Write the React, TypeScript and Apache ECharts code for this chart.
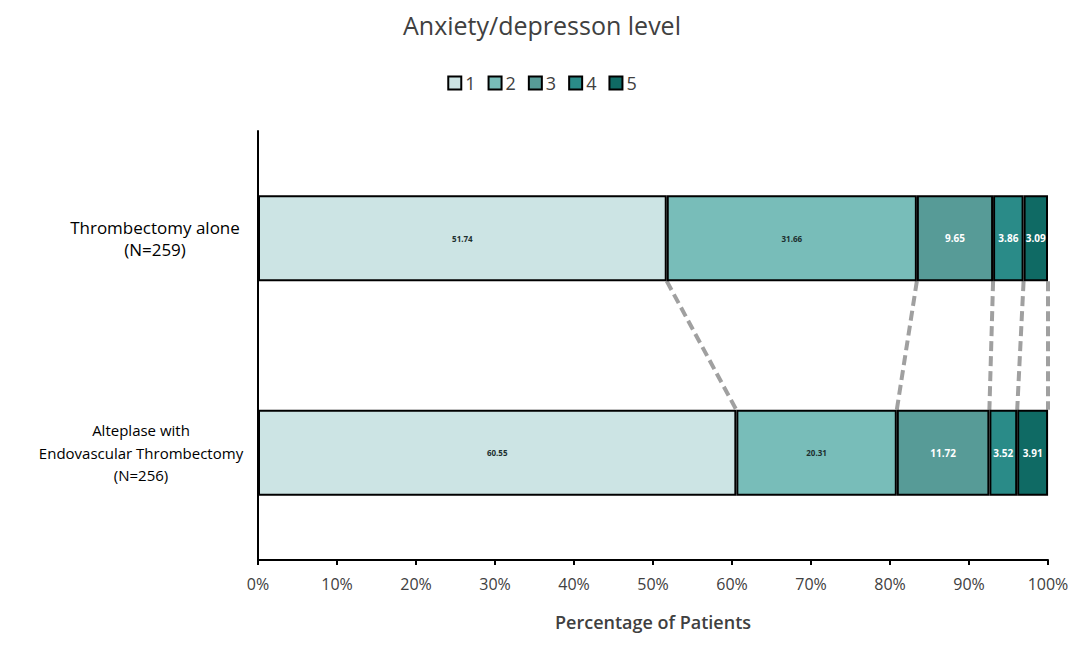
import React, { useEffect, useRef } from "react";
import * as echarts from "echarts";

const categories = ["Thrombectomy alone\n(N=259)", "Alteplase with\nEndovascular Thrombectomy\n(N=256)"];
const levels = ["1", "2", "3", "4", "5"];
const level1 = [51.74, 60.55];
const level2 = [31.66, 20.31];
const level3 = [9.65, 11.72];
const level4 = [3.86, 3.52];
const level5 = [3.09, 3.91];
const xTicks = [0, 10, 20, 30, 40, 50, 60, 70, 80, 90, 100];

const colors = ["#cce4e4", "#78bdb9", "#579b97", "#2a8b88", "#0f6a64"];
const labelColors = ["#1d2f2f", "#1d2f2f", "#ffffff", "#ffffff", "#ffffff"];
const labelSizes = [8, 8, 10, 10, 10];

export default function App() {
  const ref = useRef<HTMLDivElement>(null);
  useEffect(() => {
    if (!ref.current) return;
    const chart = echarts.init(ref.current, null, { renderer: "svg" });
    const seriesData = [level1, level2, level3, level4, level5];
    const boundaries: number[][] = [];
    for (let k = 0; k < 5; k++) {
      const top = seriesData.slice(0, k + 1).reduce((s, a) => s + a[0], 0);
      const bot = seriesData.slice(0, k + 1).reduce((s, a) => s + a[1], 0);
      boundaries.push([Math.min(top, 100), Math.min(bot, 100)]);
    }
    const barSeries = seriesData.map((d, i) => ({
      name: levels[i],
      type: "bar",
      stack: "total",
      barWidth: "40%",
      data: d,
      itemStyle: { color: colors[i], borderColor: "#000", borderWidth: 2 },
      label: {
        show: true,
        position: "inside",
        color: labelColors[i],
        fontSize: labelSizes[i],
        fontWeight: "bold",
        fontFamily: "Open Sans",
        formatter: (p: any) => p.value.toFixed(2),
      },
      z: 3,
    }));
    const connector = {
      type: "custom",
      silent: true,
      z: 1,
      data: boundaries,
      renderItem: (params: any, api: any) => {
        const xt = api.value(0);
        const xb = api.value(1);
        const bandH = api.size([0, 1])[1];
        const half = (bandH * 0.4) / 2;
        const pTop = api.coord([xt, 0]);
        const pBot = api.coord([xb, 1]);
        return {
          type: "line",
          shape: { x1: pTop[0], y1: pTop[1] + half, x2: pBot[0], y2: pBot[1] - half },
          style: { stroke: "#a0a0a0", lineWidth: 4, lineDash: [10, 5] },
        };
      },
      encode: { x: [0, 1] },
    };
    chart.setOption({
      animation: false,
      title: {
        text: "Anxiety/depresson level",
        left: "center",
        top: 7,
        textStyle: { fontFamily: "Open Sans", fontSize: 25, fontWeight: "normal", color: "#404040" },
      },
      legend: {
        data: levels,
        top: 69,
        left: "center",
        itemWidth: 13,
        itemHeight: 13,
        itemGap: 12,
        icon: "rect",
        itemStyle: { borderColor: "#000", borderWidth: 2 },
        textStyle: { fontFamily: "Open Sans", fontSize: 18, color: "#404040", padding: [0, 0, 0, -1] },
      },
      grid: { left: 258, right: 36, top: 131, bottom: 86, containLabel: false },
      xAxis: {
        type: "value",
        min: 0,
        max: 100,
        interval: 10,
        axisLine: { show: true, lineStyle: { color: "#000", width: 2 } },
        axisTick: { show: true, length: 5, lineStyle: { color: "#000", width: 2 } },
        splitLine: { show: false },
        axisLabel: {
          formatter: (v: number) => (xTicks.includes(v) ? v + "%" : ""),
          fontFamily: "Open Sans",
          fontSize: 16,
          color: "#404040",
          margin: 16,
        },
        name: "Percentage of Patients",
        nameLocation: "middle",
        nameGap: 53,
        nameTextStyle: { fontFamily: "Open Sans", fontSize: 18, fontWeight: 600, color: "#404040" },
      },
      yAxis: {
        type: "category",
        data: categories,
        inverse: true,
        axisLine: { show: true, lineStyle: { color: "#000", width: 2 } },
        axisTick: { show: false },
        axisLabel: {
          fontFamily: "Open Sans",
          fontSize: 16,
          color: "#000",
          align: "center",
          margin: 110,
          formatter: (v: string) => {
            const tag = v.indexOf("Alteplase") >= 0 ? "b" : "a";
            return v
              .split("\n")
              .map((line) => `{${tag}|${line}}`)
              .join("\n");
          },
          rich: {
            a: { fontFamily: "Open Sans", fontSize: 17, color: "#000", lineHeight: 22, padding: [0, 0, 0, 14] },
            b: { fontFamily: "Open Sans", fontSize: 15, color: "#000", lineHeight: 22.5, padding: [0, 14, 0, 0] },
          },
        },
      },
      series: [...barSeries, connector],
    });
    return () => chart.dispose();
  }, []);
  return <div ref={ref} style={{ position: "absolute", left: 0, top: 0, width: 1084, height: 646 }} />;
}
